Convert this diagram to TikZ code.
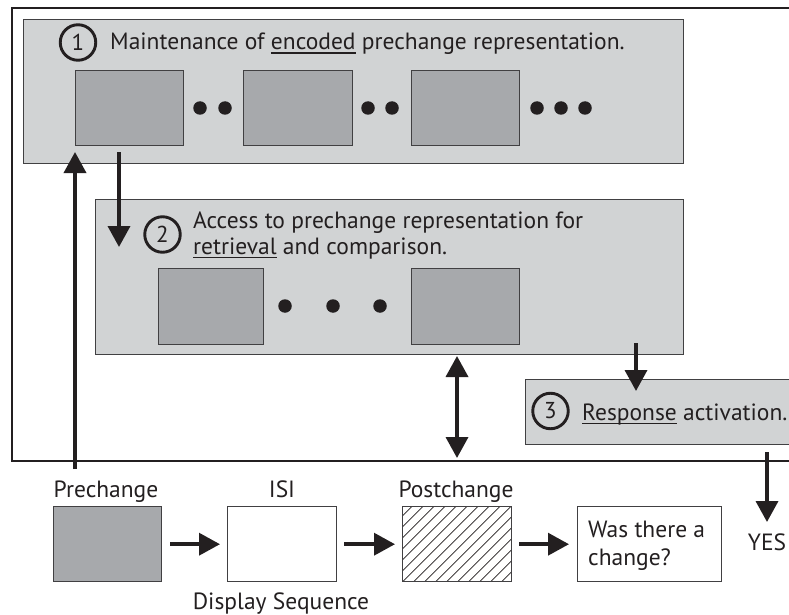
\documentclass[tikz,border=0pt]{standalone}
\usepackage{fontspec}
\setmainfont{PT Sans}
\usetikzlibrary{arrows.meta}
\definecolor{ink}{HTML}{231F20}
\definecolor{panelgray}{HTML}{D1D3D4}
\definecolor{cardgray}{HTML}{A7A9AC}
\definecolor{edgegray}{HTML}{414042}
% underlined word with a rule of fixed depth
\newcommand\ulword[1]{\setbox0=\hbox{#1}\rlap{\rule[-3.8pt]{\wd0}{1.3pt}}\box0\relax}
\tikzset{
  outerframe/.style={draw=ink, line width=1.8, fill=white, inner sep=0, anchor=north west},
  panel/.style={draw=edgegray, line width=1.4, fill=panelgray, inner sep=0, anchor=north west},
  card/.style={draw=edgegray, line width=1.4, fill=cardgray, inner sep=0, anchor=north west},
  blank/.style={draw=edgegray, line width=1.4, fill=white, inner sep=0, anchor=north west},
  hatchline/.style={draw=ink, line width=0.7},
  hatched/.style={blank, path picture={
      \foreach \k in {-8,...,10}
        \draw[hatchline] ([xshift=\k*11pt]path picture bounding box.south west) -- ++(95,-95);}},
  seqdot/.style={circle, fill=ink, inner sep=0, minimum size=13.5},
  stagenum/.style={circle, draw=ink, line width=2.9, inner sep=0, minimum size=35.5,
    font=\fontsize{23}{23}\selectfont, text=ink},
  stagetext/.style={inner sep=0, anchor=base west, text=ink, font=\fontsize{23.5}{27}\selectfont},
  seqtext/.style={inner sep=0, anchor=base, text=ink, font=\fontsize{23.5}{27}\selectfont},
  flow/.style={draw=ink, line width=3.6, -{Triangle[length=21pt, width=22pt]}},
  twoway/.style={draw=ink, line width=3.6,
    {Triangle[length=21pt, width=22pt]}-{Triangle[length=21pt, width=22pt]}},
}
\begin{document}
\begin{tikzpicture}[x=1pt, y=-1pt]
\useasboundingbox (0,0) rectangle (789,615);
\clip (0,0) rectangle (789,615);

% enclosing frame of the three stages
\node[outerframe, minimum width=900, minimum height=453] (frame) at (11,7) {};

% stage 1: maintenance
\node[panel, minimum width=660, minimum height=144] (stage1) at (23,19) {};
\node[stagenum] (num1) at (78,42.5) {1};
\node[stagetext] (text1) at (110,50) {Maintenance of \ulword{encoded} prechange representation.};
\node[card, minimum width=108, minimum height=75] (rep1a) at (75,70) {};
\node[card, minimum width=109, minimum height=75] (rep1b) at (243,70) {};
\node[card, minimum width=108, minimum height=75] (rep1c) at (411,70) {};
\node[seqdot] (d1) at (200,108) {};
\node[seqdot] (d2) at (225,108) {};
\node[seqdot] (d3) at (368,108) {};
\node[seqdot] (d4) at (392,108) {};
\node[seqdot] (d5) at (537,108) {};
\node[seqdot] (d6) at (561,108) {};
\node[seqdot] (d7) at (585,108) {};

% stage 2: retrieval and comparison
\node[panel, minimum width=588, minimum height=155] (stage2) at (95,199) {};
\node[stagenum] (num2) at (162.5,234.5) {2};
\node[stagetext] (text2a) at (193,228) {Access to prechange representation for};
\node[stagetext] (text2b) at (193,254) {\ulword{retrieval} and comparison.};
\node[card, minimum width=105, minimum height=76] (rep2a) at (158,268) {};
\node[card, minimum width=108, minimum height=76] (rep2b) at (411,268) {};
\node[seqdot] (e1) at (285,306) {};
\node[seqdot] (e2) at (333,306) {};
\node[seqdot] (e3) at (380,306) {};

% stage 3: response
\node[panel, minimum width=300, minimum height=65] (stage3) at (525,379) {};
\node[stagenum] (num3) at (550.5,411) {3};
\node[stagetext] (text3) at (582,420) {\ulword{Response} activation.};

% display sequence
\node[seqtext] (lpre) at (106,497) {Prechange};
\node[seqtext] (lisi) at (282,497) {ISI};
\node[seqtext] (lpost) at (456,497) {Postchange};
\node[card, minimum width=108, minimum height=75] (pre) at (53,506) {};
\node[blank, minimum width=109, minimum height=75] (isi) at (227,506) {};
\node[hatched, minimum width=109, minimum height=75] (post) at (402,506) {};
\node[blank, minimum width=144, minimum height=75] (query) at (577,506) {};
\node[stagetext] (qa) at (588,537) {Was there a};
\node[stagetext] (qb) at (588,565) {change?};
\node[seqtext] (yes) at (767,550) {YES};
\node[seqtext] (lseq) at (281,609) {Display Sequence};

% connector end points
\coordinate (encfoot) at (75,469);
\coordinate (enctip)  at (75,152);
\coordinate (retfoot) at (119,152);
\coordinate (rettip)  at (119,247);
\coordinate (cmptop)  at (457,356);
\coordinate (cmpbot)  at (457,458);
\coordinate (resfoot) at (636,343);
\coordinate (restip)  at (636,391);
\coordinate (yesfoot) at (767,452);
\coordinate (yestip)  at (767,522);

\draw[flow] (encfoot) -- (enctip);
\draw[flow] (retfoot) -- (rettip);
\draw[twoway] (cmptop) -- (cmpbot);
\draw[flow] (resfoot) -- (restip);
\draw[flow] (yesfoot) -- (yestip);

\draw[flow] ([xshift=8pt]pre.east) -- ([xshift=-7pt]isi.west);
\draw[flow] ([xshift=7pt]isi.east) -- ([xshift=-7pt]post.west);
\draw[flow] ([xshift=7pt]post.east) -- ([xshift=-8pt]query.west);
\end{tikzpicture}
\end{document}
